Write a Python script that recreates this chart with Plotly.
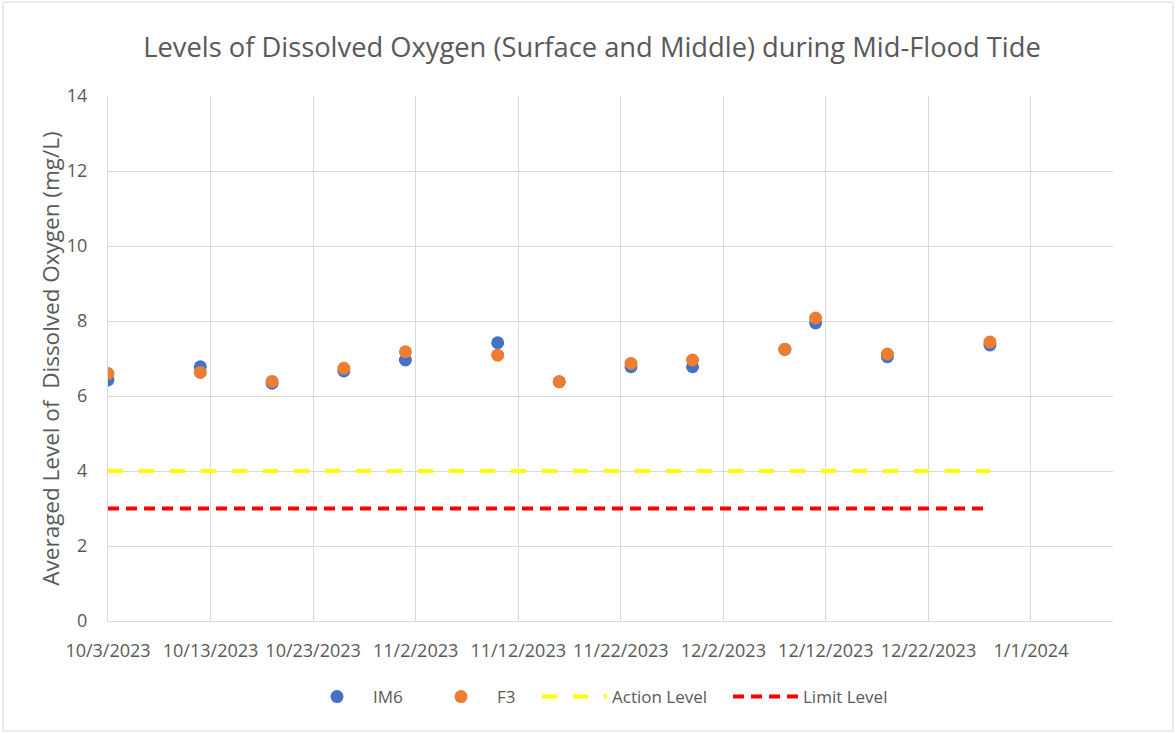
import plotly.graph_objects as go

dates = ["2023-10-03", "2023-10-12", "2023-10-19", "2023-10-26", "2023-11-01",
         "2023-11-10", "2023-11-16", "2023-11-23", "2023-11-29", "2023-12-08",
         "2023-12-11", "2023-12-18", "2023-12-28"]
im6 = [6.43, 6.78, 6.34, 6.67, 6.96, 7.42, 6.38, 6.78, 6.78, 7.24, 7.95, 7.05, 7.36]
f3 = [6.60, 6.63, 6.39, 6.74, 7.18, 7.09, 6.38, 6.87, 6.96, 7.25, 8.08, 7.12, 7.44]
level_dates = ["2023-10-03", "2023-12-28"]
action_level = [4, 4]
limit_level = [3, 3]

FONT = "Open Sans, Liberation Sans, sans-serif"
GRAY = "#595959"

fig = go.Figure()
fig.add_trace(go.Scatter(x=dates, y=im6, mode="markers", name="IM6", legend="legend",
                         marker=dict(color="#4472C4", size=13)))
fig.add_trace(go.Scatter(x=dates, y=f3, mode="markers", name="F3", legend="legend2",
                         marker=dict(color="#ED7D31", size=13)))
fig.add_trace(go.Scatter(x=level_dates, y=action_level, mode="lines", name="Action Level",
                         legend="legend3",
                         line=dict(color="#FFFF00", width=4, dash="15px,16px")))
fig.add_trace(go.Scatter(x=level_dates, y=limit_level, mode="lines", name="Limit Level",
                         legend="legend4",
                         line=dict(color="#FF0000", width=4, dash="11px,7px")))

def leg(xpx, iw):
    return dict(orientation="h", x=xpx / 1176, xanchor="left", xref="container",
                y=(733 - 697) / 733, yref="container", yanchor="middle",
                font=dict(size=17, color=GRAY), itemwidth=iw,
                bgcolor="rgba(0,0,0,0)")

fig.update_layout(
    width=1176, height=733,
    margin=dict(l=108, r=63, t=96, b=112),
    paper_bgcolor="white", plot_bgcolor="white",
    font=dict(family=FONT, color=GRAY, size=16),
    title=dict(text="Levels of Dissolved Oxygen (Surface and Middle) during Mid-Flood Tide",
               x=592 / 1176, xref="container", xanchor="center",
               y=(733 - 47) / 733, yref="container",
               yanchor="middle", font=dict(size=27.3, color=GRAY, family=FONT)),
    xaxis=dict(type="date", range=["2023-10-03", "2024-01-09"],
               tick0="2023-10-03", dtick=10 * 86400000, tickformat="%-m/%-d/%Y",
               showgrid=True, gridcolor="#D9D9D9", gridwidth=1,
               showline=True, linecolor="#D9D9D9", linewidth=1,
               ticks="", ticklabelstandoff=13,
               tickfont=dict(size=18, color=GRAY), zeroline=False),
    yaxis=dict(range=[0, 14], dtick=2, showgrid=True, gridcolor="#D9D9D9", gridwidth=1,
               showline=True, linecolor="#D9D9D9", zeroline=False,
               ticks="", ticklabelstandoff=16,
               tickfont=dict(size=18, color=GRAY),
               title=dict(text="Averaged Level of  Dissolved Oxygen (mg/L)",
                          font=dict(size=22.5, color=GRAY), standoff=0)),
    legend=leg(301, 62),
    legend2=leg(425, 62),
    legend3=leg(537, 65),
    legend4=leg(728, 65),
    showlegend=True,
)

fig.add_shape(type="rect", xref="paper", yref="paper",
              x0=(3 - 108) / 1005, x1=(1173 - 108) / 1005,
              y0=(621 - 731) / 525, y1=(621 - 2) / 525,
              line=dict(color="#D9D9D9", width=1), layer="below")

fig.write_html("out.html", config={"displayModeBar": False})

with open("out.html", "r", encoding="utf-8") as fh:
    html = fh.read()
html = html.replace("<body>", '<body style="margin:0;padding:0;">', 1)
with open("out.html", "w", encoding="utf-8") as fh:
    fh.write(html)
